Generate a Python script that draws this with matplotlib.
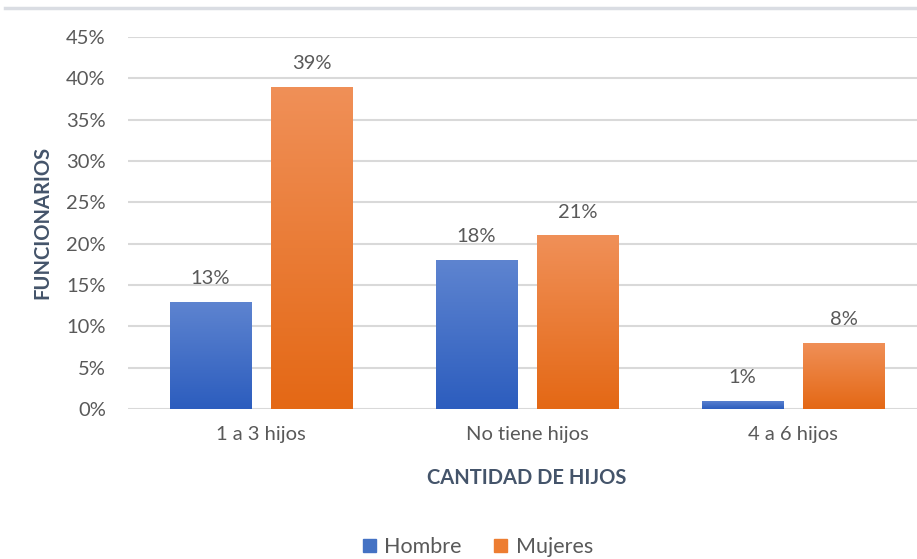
import numpy as np
import matplotlib
matplotlib.use("Agg")
import matplotlib.pyplot as plt
from matplotlib.colors import LinearSegmentedColormap
from matplotlib.lines import Line2D
from matplotlib.patches import Patch

# datos
categorias = ["1 a 3 hijos", "No tiene hijos", "4 a 6 hijos"]
hombre = [0.13, 0.18, 0.01]
mujeres = [0.39, 0.21, 0.08]
etiquetas_h = ["13%", "18%", "1%"]
etiquetas_m = ["39%", "21%", "8%"]
ticks_y = [0, 0.05, 0.10, 0.15, 0.20, 0.25, 0.30, 0.35, 0.40, 0.45]

plt.rcParams["font.family"] = ["Lato", "DejaVu Sans"]

W, H = 917, 559
fig = plt.figure(figsize=(W / 100, H / 100), dpi=100)
ax = fig.add_axes([128 / W, 1 - 409 / H, (926 - 128) / W, (409 - 37) / H])

color_txt = "#595959"
color_tit = "#44546A"
grid_col = "#D9D9D9"

x = np.arange(len(categorias))
ancho = 0.305
desp = 0.19

azul_top, azul_bot = "#5E84D0", "#2C5DBE"
nar_top, nar_bot = "#F09058", "#E46815"
cmap_azul = LinearSegmentedColormap.from_list("az", [azul_bot, azul_top])
cmap_nar = LinearSegmentedColormap.from_list("na", [nar_bot, nar_top])

barras_h = ax.bar(x - desp, hombre, ancho, color="#4472C4", zorder=2)
barras_m = ax.bar(x + desp, mujeres, ancho, color="#ED7D31", zorder=2)

grad = np.linspace(0, 1, 256).reshape(-1, 1)
for barras, cm in [(barras_h, cmap_azul), (barras_m, cmap_nar)]:
    for b in barras:
        x0, y0 = b.get_x(), b.get_y()
        w, h = b.get_width(), b.get_height()
        im = ax.imshow(grad, extent=[x0, x0 + w, y0, y0 + h], origin="lower",
                       aspect="auto", cmap=cm, zorder=3)
        im.set_clip_path(b)

for barras, etiquetas in [(barras_h, etiquetas_h), (barras_m, etiquetas_m)]:
    for b, t in zip(barras, etiquetas):
        ax.text(b.get_x() + b.get_width() / 2, b.get_height() + 0.018, t,
                ha="center", va="bottom", fontsize=14.5, color=color_txt,
                zorder=4)

ax.set_xlim(-0.5, 2.5)
ax.set_ylim(0, 0.45)
ax.set_yticks(ticks_y)
ax.set_yticklabels([f"{int(round(v * 100))}%" for v in ticks_y])
ax.set_xticks(x)
ax.set_xticklabels(categorias)
ax.tick_params(axis="both", length=0, labelsize=14.5, colors=color_txt)
ax.tick_params(axis="y", pad=16)
ax.tick_params(axis="x", pad=12)
ax.grid(axis="y", color=grid_col, lw=1.5, zorder=0)
ax.set_axisbelow(True)
for s in ax.spines.values():
    s.set_visible(False)

fig.text(42 / W, 1 - 222 / H, "FUNCIONARIOS", rotation=90, ha="center",
         va="center", fontsize=14.5, fontweight="bold", color=color_tit)
fig.text(527 / W, 1 - 478 / H, "CANTIDAD DE HIJOS", ha="center", va="center",
         fontsize=14.5, fontweight="bold", color=color_tit)

# linea gris superior
fig.add_artist(Line2D([5 / W, 1], [1 - 8 / H, 1 - 8 / H], color="#DADDE3",
                      lw=2.5, transform=fig.transFigure))

handles = [Patch(color="#4472C4"), Patch(color="#ED7D31")]
fig.legend(handles, ["Hombre", "Mujeres"], loc="center",
           bbox_to_anchor=(478 / W, 1 - 547 / H), ncol=2, frameon=False,
           fontsize=15.5, handlelength=0.6, handleheight=0.6,
           columnspacing=1.5, handletextpad=0.4, labelcolor=color_txt)

fig.savefig("out.png", dpi=100)
